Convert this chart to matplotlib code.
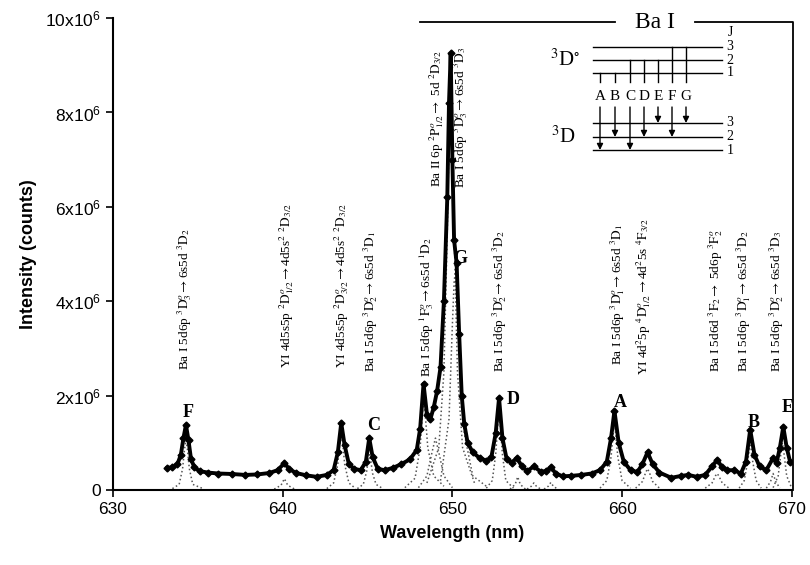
import matplotlib
matplotlib.use('Agg')
import matplotlib.pyplot as plt
from matplotlib.ticker import FuncFormatter
import numpy as np

plt.rcParams['font.family'] = ['Liberation Sans', 'DejaVu Sans']
plt.rcParams['mathtext.fontset'] = 'custom'
plt.rcParams['mathtext.rm'] = 'Liberation Sans'
plt.rcParams['mathtext.it'] = 'Liberation Sans:italic'
plt.rcParams['mathtext.bf'] = 'Liberation Sans:bold'

# measured spectrum (nm, 10^6 counts)
wavelength = [633.2, 633.5, 633.8, 634.0, 634.15, 634.3, 634.45, 634.6, 634.8, 635.1,
              635.6, 636.2, 637.0, 637.8, 638.5, 639.2, 639.7, 640.1, 640.4, 640.8,
              641.4, 642.0, 642.6, 643.0, 643.25, 643.45, 643.65, 643.9, 644.2, 644.6,
              644.9, 645.1, 645.3, 645.6, 646.0, 646.5, 647.0, 647.5, 647.9, 648.1,
              648.3, 648.5, 648.7, 648.9, 649.1, 649.3, 649.5, 649.7, 649.8, 649.9,
              650.0, 650.1, 650.25, 650.4, 650.55, 650.7, 650.9, 651.2, 651.6, 652.0,
              652.3, 652.55, 652.75, 652.95, 653.2, 653.5, 653.8, 654.1, 654.4, 654.8,
              655.2, 655.5, 655.8, 656.1, 656.5, 657.0, 657.6, 658.2, 658.7, 659.1,
              659.35, 659.55, 659.8, 660.1, 660.5, 660.9, 661.2, 661.5, 661.8, 662.2,
              662.9, 663.5, 663.9, 664.4, 664.9, 665.3, 665.6, 665.9, 666.2, 666.6,
              667.0, 667.3, 667.55, 667.8, 668.1, 668.5, 668.9, 669.1, 669.3, 669.5,
              669.7, 669.9]
intensity = [0.47, 0.48, 0.55, 0.75, 1.1, 1.38, 1.05, 0.65, 0.48, 0.40,
             0.37, 0.35, 0.34, 0.32, 0.33, 0.36, 0.42, 0.57, 0.44, 0.36,
             0.31, 0.28, 0.32, 0.42, 0.8, 1.42, 0.95, 0.55, 0.45, 0.42,
             0.6, 1.1, 0.7, 0.45, 0.42, 0.47, 0.55, 0.65, 0.85, 1.3,
             2.25, 1.6, 1.5, 1.75, 2.1, 2.6, 4.0, 6.2, 8.2, 9.25,
             7.0, 5.3, 4.8, 3.3, 2.0, 1.4, 1.0, 0.8, 0.68, 0.62,
             0.7, 1.2, 1.95, 1.1, 0.65, 0.58, 0.68, 0.5, 0.4, 0.5,
             0.39, 0.4, 0.48, 0.35, 0.29, 0.3, 0.32, 0.35, 0.42, 0.6,
             1.1, 1.68, 1.0, 0.6, 0.42, 0.38, 0.55, 0.8, 0.55, 0.37,
             0.26, 0.3, 0.32, 0.28, 0.32, 0.5, 0.64, 0.48, 0.42, 0.42,
             0.35, 0.6, 1.28, 0.75, 0.5, 0.42, 0.68, 0.57, 0.9, 1.34,
             0.9, 0.6]

# fitted line components
fit_components = [
    [(633.5, 0.03), (633.9, 0.12), (634.1, 0.45), (634.22, 0.88), (634.3, 1.05), (634.38, 0.88), (634.5, 0.45), (634.7, 0.12), (635.3, 0.03)],
    [(639.5, 0.02), (639.9, 0.1), (640.1, 0.24), (640.3, 0.1), (640.7, 0.02)],
    [(642.6, 0.03), (643.0, 0.15), (643.25, 0.55), (643.35, 0.95), (643.45, 1.15), (643.55, 0.95), (643.65, 0.55), (643.9, 0.15), (644.3, 0.03)],
    [(644.4, 0.03), (644.75, 0.12), (644.95, 0.4), (645.05, 0.65), (645.1, 0.75), (645.2, 0.6), (645.3, 0.35), (645.5, 0.12), (645.9, 0.03)],
    [(647.2, 0.05), (647.8, 0.25), (648.1, 0.9), (648.25, 1.7), (648.3, 1.9), (648.4, 1.6), (648.55, 0.9), (648.9, 0.3), (649.5, 0.08)],
    [(648.0, 0.05), (648.5, 0.3), (648.8, 0.8), (649.0, 1.1), (649.2, 0.8), (649.5, 0.3), (650.0, 0.05)],
    [(648.5, 0.15), (649.2, 0.9), (649.5, 2.5), (649.7, 5.5), (649.85, 8.5), (649.9, 9.0), (649.95, 8.5), (650.1, 5.5), (650.3, 2.5), (650.6, 0.9), (651.3, 0.15)],
    [(649.3, 0.2), (649.8, 1.5), (650.0, 3.5), (650.1, 4.4), (650.2, 4.7), (650.3, 4.2), (650.45, 2.8), (650.7, 1.2), (651.2, 0.3), (652.0, 0.08)],
    [(652.0, 0.04), (652.35, 0.2), (652.55, 0.75), (652.68, 1.4), (652.75, 1.62), (652.82, 1.4), (652.95, 0.75), (653.15, 0.2), (653.6, 0.04)],
    [(653.4, 0.02), (653.7, 0.12), (653.85, 0.28), (654.0, 0.12), (654.3, 0.02)],
    [(654.4, 0.02), (654.65, 0.08), (654.8, 0.15), (654.95, 0.08), (655.2, 0.02)],
    [(655.4, 0.02), (655.65, 0.08), (655.8, 0.16), (655.95, 0.08), (656.2, 0.02)],
    [(658.7, 0.04), (659.1, 0.2), (659.35, 0.7), (659.48, 1.2), (659.55, 1.38), (659.62, 1.2), (659.75, 0.7), (660.0, 0.2), (660.5, 0.04)],
    [(660.8, 0.04), (661.2, 0.18), (661.4, 0.38), (661.5, 0.45), (661.6, 0.38), (661.8, 0.18), (662.2, 0.04)],
    [(664.9, 0.04), (665.3, 0.15), (665.5, 0.3), (665.6, 0.35), (665.7, 0.3), (665.9, 0.15), (666.3, 0.04)],
    [(666.9, 0.04), (667.2, 0.2), (667.4, 0.6), (667.5, 0.88), (667.55, 0.95), (667.6, 0.88), (667.7, 0.6), (667.9, 0.2), (668.2, 0.04)],
    [(668.5, 0.04), (668.75, 0.18), (668.9, 0.35), (669.05, 0.18), (669.3, 0.04)],
    [(668.9, 0.05), (669.2, 0.3), (669.35, 0.75), (669.45, 1.0), (669.55, 0.75), (669.7, 0.3), (669.95, 0.08)],
]

# line identifications: x (nm), bottom of text (10^6 counts), text
line_x = [634.24, 640.24, 643.5, 645.2, 648.47, 649.1, 650.47, 652.76,
          659.76, 661.3, 665.53, 667.18, 669.12]
line_y = [2.54, 2.58, 2.58, 2.5, 2.39, 6.42, 6.4, 2.5,
          2.65, 2.44, 2.5, 2.5, 2.5]
line_text = [
    r"Ba I 5d6p $^3\mathrm{D}^o_3\rightarrow$6s5d $^3\mathrm{D}_2$",
    r"YI 4d5s5p $^2\mathrm{D}^o_{1/2}\rightarrow$4d5s$^2$ $^2\mathrm{D}_{3/2}$",
    r"YI 4d5s5p $^2\mathrm{D}^o_{3/2}\rightarrow$4d5s$^2$ $^2\mathrm{D}_{3/2}$",
    r"Ba I 5d6p $^3\mathrm{D}^o_2\rightarrow$6s5d $^3\mathrm{D}_1$",
    r"Ba I 5d6p $^1\mathrm{F}^o_3\rightarrow$6s5d $^1\mathrm{D}_2$",
    r"Ba II 6p $^2\mathrm{P}^o_{1/2}\rightarrow$ 5d $^2\mathrm{D}_{3/2}$",
    r"Ba I 5d6p $^3\mathrm{D}^o_3\rightarrow$6s5d $^3\mathrm{D}_3$",
    r"Ba I 5d6p $^3\mathrm{D}^o_2\rightarrow$6s5d $^3\mathrm{D}_2$",
    r"Ba I 5d6p $^3\mathrm{D}^o_1\rightarrow$6s5d $^3\mathrm{D}_1$",
    r"YI 4d$^2$5p $^4\mathrm{D}^o_{1/2}\rightarrow$4d$^2$5s $^4\mathrm{F}_{3/2}$",
    r"Ba I 5d6d $^3\mathrm{F}_2\rightarrow$ 5d6p $^3\mathrm{F}^o_2$",
    r"Ba I 5d6p $^3\mathrm{D}^o_1\rightarrow$6s5d $^3\mathrm{D}_2$",
    r"Ba I 5d6p $^3\mathrm{D}^o_2\rightarrow$6s5d $^3\mathrm{D}_3$",
]

# peak letters
peak_letters = ['F', 'C', 'G', 'D', 'A', 'B', 'E']
peak_x = [634.4, 645.35, 650.45, 653.6, 659.9, 667.75, 669.75]
peak_y = [1.64, 1.36, 4.9, 1.91, 1.86, 1.44, 1.74]

fig = plt.figure(figsize=(8.1, 5.65), dpi=100)
ax = fig.add_axes([0.1395, 0.1327, 0.838, 0.8353])

for comp in fit_components:
    cx = [p[0] for p in comp]
    cy = [p[1] * 1e6 for p in comp]
    ax.plot(cx, cy, linestyle=':', color='#555555', linewidth=1.1)

ax.plot(wavelength, np.array(intensity) * 1e6, color='black', linewidth=2.8,
        marker='D', markersize=3.5, zorder=3)

ax.set_xlim(630, 670)
ax.set_ylim(0, 10e6)
ax.set_xticks([630, 640, 650, 660, 670])
ax.set_yticks([0, 2e6, 4e6, 6e6, 8e6, 10e6])
ax.yaxis.set_major_formatter(FuncFormatter(
    lambda v, p: '0' if v == 0 else '%dx10$^6$' % round(v / 1e6)))
ax.tick_params(direction='out', length=5, width=1.2, labelsize=12.5)
for s in ['top', 'right']:
    ax.spines[s].set_visible(False)
for s in ['left', 'bottom']:
    ax.spines[s].set_linewidth(1.5)
ax.set_xlabel('Wavelength (nm)', fontsize=13, fontweight='bold', labelpad=6)
ax.set_ylabel('Intensity (counts)', fontsize=13, fontweight='bold', labelpad=6)

for x, y, t in zip(line_x, line_y, line_text):
    ax.text(x, y * 1e6, t, rotation=90, ha='center', va='bottom',
            fontsize=9.5, family='Liberation Serif', math_fontfamily='stix')

for t, x, y in zip(peak_letters, peak_x, peak_y):
    ax.text(x, y * 1e6, t, ha='center', va='center', fontsize=13,
            fontweight='bold', family='Liberation Serif')

# overlay in pixel coordinates for the Ba I level diagram
ov = fig.add_axes([0, 0, 1, 1])
ov.set_xlim(0, 810)
ov.set_ylim(565, 0)
ov.axis('off')

ov.plot([420, 615], [22, 22], color='black', lw=1.3)
ov.plot([695, 793, 793], [22, 22, 490], color='black', lw=1.3)
ov.text(655, 22, 'Ba I', ha='center', va='center', fontsize=17,
        family='Liberation Serif')

upper = [47, 60, 73]
lower = [123, 137, 150]
for y in upper + lower:
    ov.plot([593, 722], [y, y], color='black', lw=1)
ov.text(730, 32, 'J', ha='center', va='center', fontsize=10, family='Liberation Serif')
for j, y in zip(['3', '2', '1'], upper):
    ov.text(730, y, j, ha='center', va='center', fontsize=10, family='Liberation Serif')
for j, y in zip(['3', '2', '1'], lower):
    ov.text(730, y, j, ha='center', va='center', fontsize=10, family='Liberation Serif')
ov.text(565, 60, r'$^3$D$^{\circ}$', ha='center', va='center', fontsize=15,
        family='Liberation Serif', math_fontfamily='stix')
ov.text(563, 137, r'$^3$D', ha='center', va='center', fontsize=15,
        family='Liberation Serif', math_fontfamily='stix')

trans_letters = ['A', 'B', 'C', 'D', 'E', 'F', 'G']
trans_x = [600, 615, 630, 644, 658, 672, 686]
trans_from = [73, 73, 60, 60, 60, 47, 47]
trans_to = [150, 137, 150, 137, 123, 137, 123]
for t, x, y0, y1 in zip(trans_letters, trans_x, trans_from, trans_to):
    ov.plot([x, x], [y0, 82], color='black', lw=1)
    ov.text(x, 97, t, ha='center', va='center', fontsize=11, family='Liberation Serif')
    ov.annotate('', xy=(x, y1), xytext=(x, 107),
                arrowprops=dict(arrowstyle='-|>', color='black', lw=1,
                                mutation_scale=9, shrinkA=0, shrinkB=0))

fig.savefig('out.png', dpi=100)
